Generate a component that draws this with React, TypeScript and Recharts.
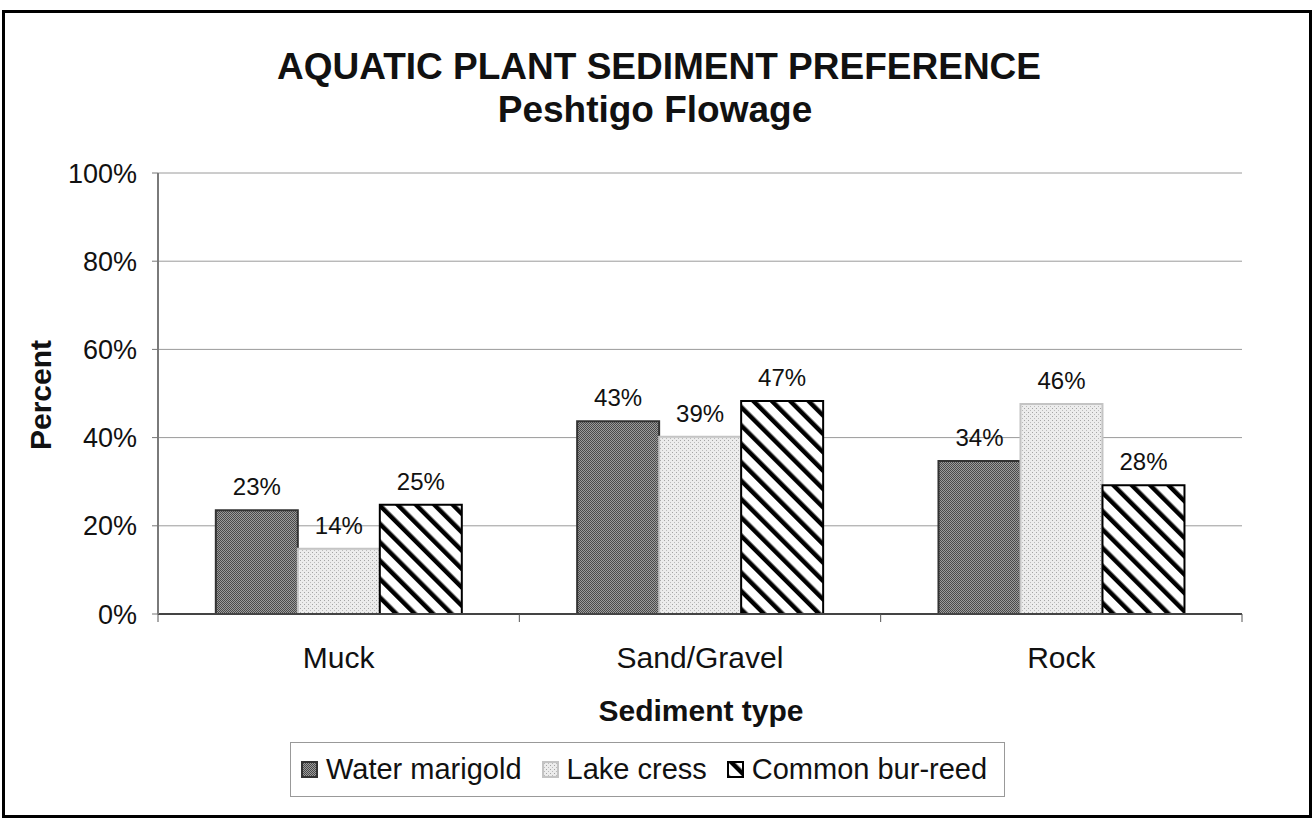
import React from 'react';
import { BarChart, Bar, XAxis, YAxis, CartesianGrid, LabelList } from 'recharts';

const categories = ['Muck', 'Sand/Gravel', 'Rock'];
const seriesNames = ['Water marigold', 'Lake cress', 'Common bur-reed'];
const waterMarigold = [23.5, 43.7, 34.7];
const lakeCress = [14.8, 40.2, 47.6];
const commonBurReed = [24.8, 48.3, 29.2];
const waterMarigoldLabels = ['23%', '43%', '34%'];
const lakeCressLabels = ['14%', '39%', '46%'];
const commonBurReedLabels = ['25%', '47%', '28%'];
const yTicks = [0, 20, 40, 60, 80, 100];

const data = categories.map((c, i) => ({
  category: c,
  wm: waterMarigold[i],
  lc: lakeCress[i],
  cbr: commonBurReed[i],
  wmLabel: waterMarigoldLabels[i],
  lcLabel: lakeCressLabels[i],
  cbrLabel: commonBurReedLabels[i],
}));

const FONT = '"Liberation Sans", Arial, Helvetica, sans-serif';

const CHART_W = 1313;
const CHART_H = 821;
const MARGIN = { top: 173, right: 71, bottom: 147, left: 58 };
const Y_AXIS_W = 100;
const PLOT_W = CHART_W - MARGIN.left - MARGIN.right - Y_AXIS_W;
const HALF_BAND = PLOT_W / categories.length / 2;

function Patterns({ prefix }: { prefix: string }) {
  return (
    <defs>
      <pattern id={`${prefix}-wm`} width="2" height="2" patternUnits="userSpaceOnUse">
        <rect width="2" height="2" fill="#9c9c9c" />
        <rect x="0" y="0" width="1" height="1" fill="#4a4a4a" />
        <rect x="1" y="1" width="1" height="1" fill="#4a4a4a" />
      </pattern>
      <pattern id={`${prefix}-lc`} width="4" height="4" patternUnits="userSpaceOnUse">
        <rect width="4" height="4" fill="#ececec" />
        <rect x="0" y="0" width="1" height="1" fill="#a4a4a4" />
        <rect x="2" y="2" width="1" height="1" fill="#bababa" />
      </pattern>
      <pattern id={`${prefix}-cbr`} width="13" height="13" patternUnits="userSpaceOnUse" patternTransform="rotate(-45)">
        <rect width="13" height="13" fill="#ffffff" />
        <rect x="0" y="0" width="4.5" height="13" fill="#000000" />
      </pattern>
    </defs>
  );
}

const seriesKeys = ['wm', 'lc', 'cbr'];
const seriesStroke = ['#333333', '#c4c4c4', '#000000'];

function CategoryTick(props: any) {
  const { x, y, payload, index } = props;
  const axisY = y - 33;
  return (
    <g>
      <line x1={x - HALF_BAND} x2={x - HALF_BAND} y1={axisY} y2={axisY + 8} stroke="#555" strokeWidth={1} />
      {index === categories.length - 1 && (
        <line x1={x + HALF_BAND} x2={x + HALF_BAND} y1={axisY} y2={axisY + 8} stroke="#555" strokeWidth={1} />
      )}
      <text x={x} y={y} dy="0.71em" textAnchor="middle" fontSize={30} fill="#111" fontFamily={FONT}>
        {payload.value}
      </text>
    </g>
  );
}

export default function App() {
  return (
    <div style={{ position: 'absolute', left: 0, top: 0, width: CHART_W, height: CHART_H, background: '#fff', fontFamily: FONT }}>
      <div style={{ position: 'absolute', left: 2, top: 10, width: 1310, height: 808, border: '3px solid #000', boxSizing: 'border-box' }} />
      <svg width={CHART_W} height={CHART_H} style={{ position: 'absolute', left: 0, top: 0 }}>
        <text x={659} y={79} textAnchor="middle" fontSize={37} fontWeight="bold" fill="#111" fontFamily={FONT}>
          AQUATIC PLANT SEDIMENT PREFERENCE
        </text>
        <text x={655} y={122} textAnchor="middle" fontSize={37} fontWeight="bold" fill="#111" fontFamily={FONT}>
          Peshtigo Flowage
        </text>
        <text x={0} y={0} transform="translate(51,395) rotate(-90)" textAnchor="middle" fontSize={30} fontWeight="bold" fill="#111" fontFamily={FONT}>
          Percent
        </text>
        <text x={701} y={721} textAnchor="middle" fontSize={30} fontWeight="bold" fill="#111" fontFamily={FONT}>
          Sediment type
        </text>
      </svg>
      <div style={{ position: 'absolute', left: 0, top: 0 }}>
        <BarChart
          width={CHART_W}
          height={CHART_H}
          data={data}
          margin={MARGIN}
          barCategoryGap="16%"
          barGap={0}
        >
          <Patterns prefix="c" />
          <CartesianGrid horizontal vertical={false} stroke="#9a9a9a" strokeWidth={1} />
          <XAxis
            dataKey="category"
            height={60}
            interval={0}
            tickSize={0}
            tickMargin={33}
            tickLine={false}
            tick={<CategoryTick />}
            axisLine={{ stroke: '#444', strokeWidth: 2 }}
          />
          <YAxis
            domain={[0, 100]}
            ticks={yTicks}
            width={Y_AXIS_W}
            interval={0}
            tickFormatter={(v: number) => `${v}%`}
            tickSize={6}
            tickMargin={15}
            tick={{ fontSize: 27, fill: '#111', fontFamily: FONT }}
            tickLine={{ stroke: '#777' }}
            axisLine={{ stroke: '#7a7a7a', strokeWidth: 2 }}
          />
          <YAxis
            yAxisId="r"
            orientation="right"
            width={0}
            domain={[0, 100]}
            tick={false}
            tickLine={false}
            axisLine={{ stroke: '#8a8a8a', strokeWidth: 2 }}
          />
          {seriesKeys.map((k, i) => (
            <Bar
              key={k}
              dataKey={k}
              name={seriesNames[i]}
              fill={`url(#c-${k})`}
              stroke={seriesStroke[i]}
              strokeWidth={2}
              isAnimationActive={false}
            >
              <LabelList dataKey={`${k}Label`} position="top" offset={15} fontSize={24} fill="#111" fontFamily={FONT} />
            </Bar>
          ))}
        </BarChart>
      </div>
      <div
        style={{
          position: 'absolute',
          left: 290,
          top: 742,
          width: 715,
          height: 55,
          border: '1px solid #999',
          boxSizing: 'border-box',
          display: 'flex',
          alignItems: 'center',
          paddingLeft: 10,
          fontSize: 29,
          color: '#111',
          fontFamily: FONT,
          whiteSpace: 'nowrap',
        }}
      >
        {seriesKeys.map((k, i) => (
          <div key={k} style={{ display: 'flex', alignItems: 'center', marginRight: 20, flexShrink: 0 }}>
            <svg width={17} height={17} style={{ marginRight: 8, flexShrink: 0 }}>
              <Patterns prefix={`lg${i}`} />
              <rect x={1} y={1} width={15} height={15} fill={`url(#lg${i}-${k})`} stroke={seriesStroke[i]} strokeWidth={2} />
            </svg>
            <span>{seriesNames[i]}</span>
          </div>
        ))}
      </div>
    </div>
  );
}
